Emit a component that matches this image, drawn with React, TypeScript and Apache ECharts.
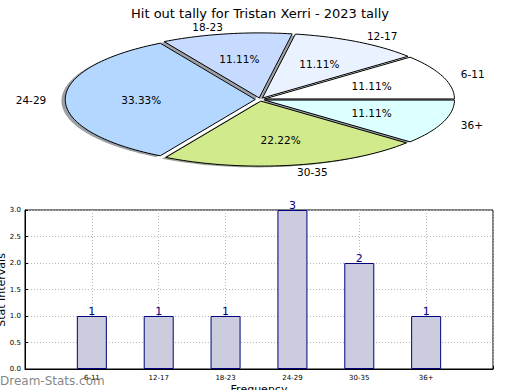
import React, { useEffect, useRef } from 'react';
import * as echarts from 'echarts';

// ---- data ----
const categories = ['6-11', '12-17', '18-23', '24-29', '30-35', '36+'];
const counts = [1, 1, 1, 3, 2, 1];
const sliceColors = ['#ffffff', '#eaf1ff', '#c6dbff', '#b4d7ff', '#d0ea8c', '#dcffff'];
const yTickMin = 0;
const yTickMax = 3;
const yTickStep = 0.5;
const titleText = 'Hit out tally for Tristan Xerri - 2023 tally';
const yAxisTitle = 'Stat Intervals';
const xAxisTitle = 'Frequency';
const watermark = 'Dream-Stats.com';

// ---- layout / style ----
const FONT = 'DejaVu Sans';
const PIE = { cx: 260, cy: 99.5, rx: 190, ry: 65, explode: 0.025, labelDist: 1.1, pctDist: 0.6, shadow: 0.02 };

const total = counts.reduce((a, b) => a + b, 0);

function wedgeGeom(i: number) {
  let start = 0;
  for (let k = 0; k < i; k++) start += (counts[k] / total) * 360;
  const end = start + (counts[i] / total) * 360;
  const mid = (((start + end) / 2) * Math.PI) / 180;
  const wcx = PIE.cx + PIE.explode * PIE.rx * Math.cos(mid);
  const wcy = PIE.cy - PIE.explode * PIE.ry * Math.sin(mid);
  return { start, end, mid, wcx, wcy, frac: counts[i] / total };
}

function wedgePoints(g: any, dx: number, dy: number) {
  const pts: number[][] = [[g.wcx + dx, g.wcy + dy]];
  const n = Math.max(4, Math.ceil((g.end - g.start) / 1.5));
  for (let s = 0; s <= n; s++) {
    const a = ((g.start + ((g.end - g.start) * s) / n) * Math.PI) / 180;
    pts.push([g.wcx + dx + PIE.rx * Math.cos(a), g.wcy + dy - PIE.ry * Math.sin(a)]);
  }
  return pts;
}

function shadowColor(hex: string) {
  const r = parseInt(hex.slice(1, 3), 16);
  const g = parseInt(hex.slice(3, 5), 16);
  const b = parseInt(hex.slice(5, 7), 16);
  return `rgba(${Math.round(r * 0.3)},${Math.round(g * 0.3)},${Math.round(b * 0.3)},0.5)`;
}

export default function App() {
  const ref = useRef<HTMLDivElement>(null);
  useEffect(() => {
    if (!ref.current) return;
    const chart = echarts.init(ref.current, undefined, { renderer: 'svg' });
    const barData = [null, ...counts, null];
    const option: any = {
      animation: false,
      backgroundColor: '#ffffff',
      textStyle: { fontFamily: FONT },
      title: {
        text: titleText,
        left: 'center',
        top: 2,
        textStyle: { fontFamily: FONT, fontSize: 13, fontWeight: 'normal', color: '#000' },
      },
      grid: {
        left: 25,
        top: 210,
        width: 468,
        height: 159,
        show: true,
        borderColor: '#000',
        borderWidth: 1,
        backgroundColor: 'transparent',
        containLabel: false,
      },
      xAxis: {
        type: 'category',
        data: ['', ...categories, ''],
        boundaryGap: false,
        axisLine: { lineStyle: { color: '#000', width: 1 } },
        axisTick: { show: true, inside: true, length: 3, lineStyle: { color: '#000' } },
        axisLabel: { fontFamily: FONT, fontSize: 7, color: '#000', margin: 5, interval: 0 },
        splitLine: { show: true, lineStyle: { color: '#b8b8b8', type: [1, 2], width: 1 } },
      },
      yAxis: {
        type: 'value',
        min: yTickMin,
        max: yTickMax,
        interval: yTickStep,
        axisLine: { show: true, lineStyle: { color: '#000', width: 1 } },
        axisTick: { show: true, inside: true, length: 3, lineStyle: { color: '#000' } },
        axisLabel: {
          fontFamily: FONT,
          fontSize: 7,
          color: '#000',
          margin: 4,
          formatter: (v: number) => v.toFixed(1),
        },
        splitLine: { show: true, lineStyle: { color: '#b8b8b8', type: [1, 2], width: 1 } },
      },
      series: [
        {
          type: 'bar',
          data: barData,
          barWidth: 30,
          itemStyle: { color: '#ccccdf', borderColor: '#000080', borderWidth: 1 },
          label: {
            show: true,
            position: 'top',
            distance: -1,
            color: '#000080',
            fontFamily: FONT,
            fontSize: 11,
          },
          z: 3,
        },
        {
          type: 'custom',
          coordinateSystem: 'none',
          data: counts,
          z: 1,
          renderItem: (params: any) => {
            const i = params.dataIndex;
            const g = wedgeGeom(i);
            return {
              type: 'polygon',
              shape: { points: wedgePoints(g, -PIE.shadow * PIE.rx, PIE.shadow * PIE.ry) },
              style: { fill: shadowColor(sliceColors[i]), stroke: 'none' },
              silent: true,
            };
          },
        },
        {
          type: 'custom',
          coordinateSystem: 'none',
          data: counts,
          z: 2,
          renderItem: (params: any) => {
            const i = params.dataIndex;
            const g = wedgeGeom(i);
            return {
              type: 'polygon',
              shape: { points: wedgePoints(g, 0, 0) },
              style: { fill: sliceColors[i], stroke: '#000', lineWidth: 1 },
            };
          },
        },
        {
          type: 'custom',
          coordinateSystem: 'none',
          data: counts,
          z: 4,
          renderItem: (params: any) => {
            const i = params.dataIndex;
            const g = wedgeGeom(i);
            const c = Math.cos(g.mid);
            const s = Math.sin(g.mid);
            return {
              type: 'group',
              children: [
                {
                  type: 'text',
                  x: g.wcx + PIE.labelDist * PIE.rx * c,
                  y: g.wcy - PIE.labelDist * PIE.ry * s,
                  style: {
                    text: categories[i],
                    fill: '#000',
                    font: `10.5px "${FONT}"`,
                    align: c > 0 ? 'left' : 'right',
                    verticalAlign: 'middle',
                  },
                },
                {
                  type: 'text',
                  x: g.wcx + PIE.pctDist * PIE.rx * c,
                  y: g.wcy - PIE.pctDist * PIE.ry * s,
                  style: {
                    text: (g.frac * 100).toFixed(2) + '%',
                    fill: '#000',
                    font: `10.5px "${FONT}"`,
                    align: 'center',
                    verticalAlign: 'middle',
                  },
                },
              ],
            };
          },
        },
      ],
      graphic: [
        {
          type: 'text',
          x: 1,
          y: 290,
          rotation: Math.PI / 2,
          style: {
            text: yAxisTitle,
            fill: '#000',
            font: `11px "${FONT}"`,
            align: 'center',
            verticalAlign: 'middle',
          },
        },
        {
          type: 'text',
          x: 259,
          y: 384,
          style: {
            text: xAxisTitle,
            fill: '#000',
            font: `11px "${FONT}"`,
            align: 'center',
            verticalAlign: 'top',
          },
        },
        {
          type: 'text',
          x: 0,
          y: 381,
          z: 100,
          style: {
            text: watermark,
            fill: 'rgba(110,110,110,0.85)',
            font: `12px "${FONT}"`,
            align: 'left',
            verticalAlign: 'middle',
          },
        },
      ],
    };
    chart.setOption(option);
    return () => chart.dispose();
  }, []);
  return (
    <div
      ref={ref}
      style={{ position: 'fixed', left: 0, top: 0, width: 520, height: 390, background: '#fff' }}
    />
  );
}
